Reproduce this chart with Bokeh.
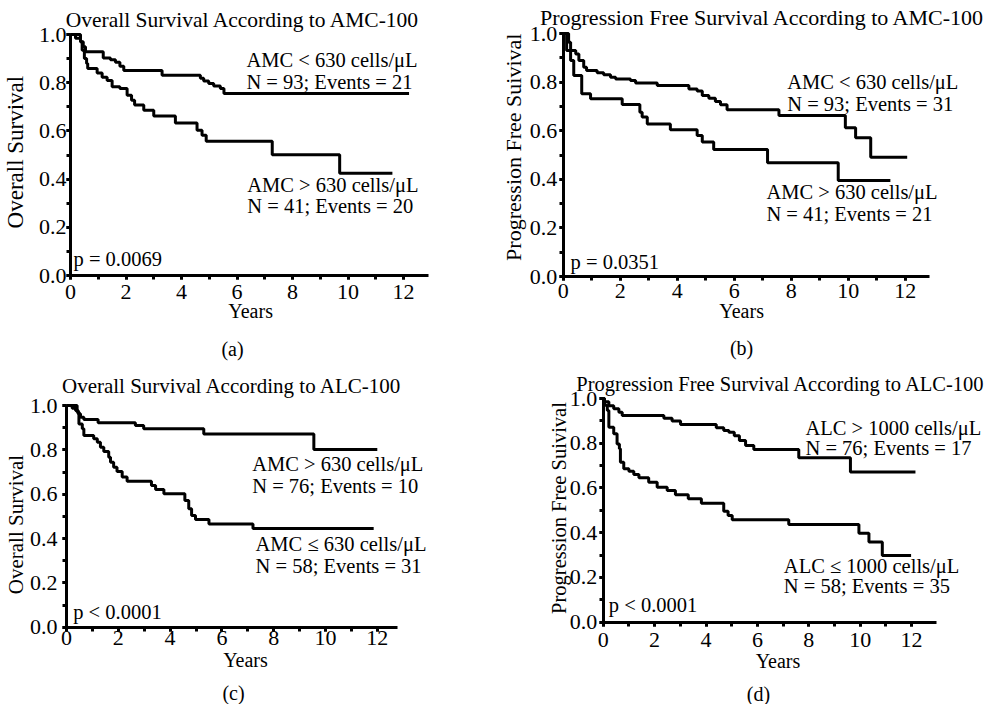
import math
from bokeh.plotting import figure
from bokeh.models import Label, SingleIntervalTicker, PrintfTickFormatter, Range1d
from bokeh.layouts import column, row
from bokeh.embed import file_html
from bokeh.resources import INLINE

FONT = "Liberation Serif"

# ---------------- data ----------------
# (a) Overall survival according to AMC-100
t_a_low = [0, 0.18, 0.36, 0.46, 0.54, 1.18, 1.44, 1.62, 1.78, 1.92, 3.3, 4.68, 4.8, 4.98, 5.16, 5.4, 5.53, 12.2]
s_a_low = [1.0, 0.984, 0.97, 0.949, 0.928, 0.903, 0.895, 0.885, 0.868, 0.851, 0.831, 0.818, 0.807, 0.797, 0.786, 0.776, 0.755, 0.755]
t_a_high = [0, 0.36, 0.42, 0.5, 0.58, 0.62, 0.96, 1.14, 1.32, 1.5, 1.78, 2.04, 2.2, 2.31, 2.64, 3.0, 3.78, 4.56, 4.74, 4.89, 7.27, 9.7, 11.6]
s_a_high = [1.0, 0.97, 0.935, 0.9, 0.88, 0.859, 0.84, 0.823, 0.809, 0.783, 0.776, 0.748, 0.727, 0.707, 0.686, 0.662, 0.633, 0.603, 0.582, 0.557, 0.501, 0.424, 0.424]

# (b) Progression free survival according to AMC-100
t_b_low = [0, 0.19, 0.26, 0.44, 0.55, 0.72, 0.82, 1.19, 1.42, 1.66, 1.84, 2.36, 2.54, 3.3, 4.41, 4.7, 4.88, 5.11, 5.34, 5.52, 5.75, 7.57, 9.9, 10.26, 10.79, 12.07]
s_b_low = [1.0, 0.964, 0.93, 0.916, 0.889, 0.861, 0.848, 0.838, 0.83, 0.82, 0.813, 0.807, 0.796, 0.786, 0.772, 0.763, 0.745, 0.734, 0.72, 0.707, 0.686, 0.663, 0.612, 0.571, 0.491, 0.491]
t_b_high = [0, 0.12, 0.26, 0.37, 0.65, 0.96, 2.07, 2.69, 2.77, 2.95, 3.76, 4.7, 4.88, 5.28, 7.17, 9.65, 11.48]
s_b_high = [1.0, 0.93, 0.889, 0.827, 0.752, 0.731, 0.708, 0.676, 0.656, 0.628, 0.604, 0.58, 0.553, 0.523, 0.468, 0.395, 0.395]

# (c) Overall survival according to ALC-100
t_c_high = [0, 0.22, 0.35, 0.45, 0.54, 0.67, 1.22, 2.66, 2.98, 5.3, 9.55, 12.0]
s_c_high = [1.0, 0.988, 0.977, 0.963, 0.947, 0.937, 0.922, 0.91, 0.895, 0.872, 0.802, 0.802]
t_c_low = [0, 0.41, 0.48, 0.61, 0.67, 1.05, 1.19, 1.31, 1.44, 1.63, 1.7, 1.82, 1.95, 2.15, 2.34, 3.28, 3.44, 3.76, 4.57, 4.72, 4.83, 4.98, 5.5, 7.2, 11.86]
s_c_low = [1.0, 0.971, 0.917, 0.895, 0.865, 0.85, 0.834, 0.812, 0.792, 0.767, 0.744, 0.722, 0.702, 0.677, 0.658, 0.639, 0.621, 0.602, 0.571, 0.534, 0.504, 0.486, 0.466, 0.445, 0.445]

# (d) Progression free survival according to ALC-100
t_d_high = [0, 0.05, 0.22, 0.41, 0.61, 0.74, 2.36, 2.68, 3.01, 4.4, 4.69, 4.89, 5.1, 5.3, 5.54, 5.86, 7.61, 9.62, 12.15]
s_d_high = [1.0, 0.985, 0.968, 0.954, 0.939, 0.924, 0.912, 0.899, 0.884, 0.869, 0.857, 0.849, 0.834, 0.812, 0.79, 0.772, 0.735, 0.671, 0.671]
t_d_low = [0, 0.05, 0.16, 0.22, 0.41, 0.54, 0.63, 0.67, 0.8, 1.0, 1.19, 1.39, 1.77, 2.1, 2.49, 2.81, 3.31, 3.82, 4.69, 4.86, 5.02, 7.22, 9.95, 10.34, 10.86, 11.98]
s_d_low = [1.0, 0.97, 0.946, 0.872, 0.842, 0.797, 0.775, 0.715, 0.686, 0.675, 0.66, 0.646, 0.626, 0.603, 0.589, 0.57, 0.552, 0.532, 0.496, 0.477, 0.458, 0.437, 0.398, 0.358, 0.298, 0.298]

titles = ["Overall Survival According to AMC-100",
          "Progression Free Survival According to AMC-100",
          "Overall Survival According to ALC-100",
          "Progression Free Survival According to ALC-100"]
y_labels = ["Overall Survival", "Progression Free Suivival", "Overall Survival", "Progression Free Suivival"]
x_label = "Years"
captions = ["(a)", "(b)", "(c)", "(d)"]
annotations = [
    ["AMC < 630 cells/\u03bcL", "N = 93; Events = 21", "AMC > 630 cells/\u03bcL", "N = 41; Events = 20", "p = 0.0069"],
    ["AMC < 630 cells/\u03bcL", "N = 93; Events = 31", "AMC > 630 cells/\u03bcL", "N = 41; Events = 21", "p = 0.0351"],
    ["AMC > 630 cells/\u03bcL", "N = 76; Events = 10", "AMC \u2264 630 cells/\u03bcL", "N = 58; Events = 31", "p < 0.0001"],
    ["ALC > 1000 cells/\u03bcL", "N = 76; Events = 17", "ALC \u2264 1000 cells/\u03bcL", "N = 58; Events = 35", "p < 0.0001"],
]


def lab(p, x, y, text, size="20.5px", align="left", baseline="middle", angle=0.0):
    p.add_layout(Label(x=x, y=y, text=text, text_font=FONT, text_font_size=size,
                       text_align=align, text_baseline=baseline, angle=angle,
                       text_color="black"))


def panel(cx, cy, w, h, X0, kx, Y0, ky, x_axis_end, curves,
          title, title_xy, title_size, ylab, ylab_xy, ylab_size, years_xy,
          ann, ann_xy, cap, cap_xy, xs_off, ys_off):
    # the plotting frame fills the canvas; axes sit at x=0 / y=0
    xr = Range1d((cx - X0) / kx, (cx + w - X0) / kx)
    yr = Range1d((Y0 - cy - h) / ky, (Y0 - cy) / ky)
    p = figure(width=w, height=h, output_backend="svg", toolbar_location=None,
               x_range=xr, y_range=yr, min_border=0)
    p.title.visible = False
    p.outline_line_color = None
    p.grid.visible = False
    p.background_fill_color = "white"
    p.border_fill_color = "white"

    for t, s in curves:
        p.step(t, s, mode="after", line_color="black", line_width=3)

    p.xaxis.ticker = SingleIntervalTicker(interval=2, num_minor_ticks=2)
    p.yaxis.ticker = SingleIntervalTicker(interval=0.2, num_minor_ticks=2)
    p.yaxis.formatter = PrintfTickFormatter(format="%.1f")
    p.xaxis.fixed_location = 0
    p.yaxis.fixed_location = 0
    p.xaxis.bounds = (0, x_axis_end)
    p.yaxis.bounds = (0, 1)
    for ax in (p.xaxis, p.yaxis):
        ax.axis_line_width = 3
        ax.axis_line_color = "black"
        ax.major_tick_line_width = 3
        ax.minor_tick_line_width = 3
        ax.major_tick_out = 4
        ax.major_tick_in = 0
        ax.minor_tick_out = 4
        ax.minor_tick_in = 0
        ax.major_label_text_font = FONT
        ax.major_label_text_font_size = "22px"
        ax.major_label_text_color = "black"
    p.xaxis.major_label_standoff = xs_off
    p.yaxis.major_label_standoff = ys_off

    lab(p, title_xy[0], title_xy[1], title, size=title_size, align="center")
    lab(p, ylab_xy[0], ylab_xy[1], ylab, size=ylab_size, align="center", angle=math.pi / 2)
    lab(p, years_xy[0], years_xy[1], x_label, size="20px", align="center")
    for txt, (x, y) in zip(ann, ann_xy):
        lab(p, x, y, txt)
    lab(p, cap_xy[0], cap_xy[1], cap, size="20px", align="center")
    return p


TOP_H = 362
BOT_H = 342

pa = panel(0, 0, 490, TOP_H, 70, 27.75, 275, 241, 12.9,
           [(t_a_low, s_a_low), (t_a_high, s_a_high)],
           titles[0], (6.22, 1.060), "21.5px", y_labels[0], (-1.98, 0.512), "23px", (6.49, -0.149),
           annotations[0], [(6.34, 0.894), (6.34, 0.802), (6.37, 0.374), (6.37, 0.288), (0.11, 0.07)],
           captions[0], (5.84, -0.303), 5, 0)

pb = panel(490, 0, 494, TOP_H, 562.7, 28.5, 276, 243, 12.85,
           [(t_b_low, s_b_low), (t_b_high, s_b_high)],
           titles[1], (7.0, 1.065), "22px", y_labels[1], (-1.744, 0.532), "22px", (6.26, -0.144),
           annotations[1], [(7.86, 0.80), (7.86, 0.708), (7.13, 0.347), (7.13, 0.258), (0.26, 0.059)],
           captions[1], (6.26, -0.296), 3, 2)

pc = panel(0, TOP_H, 490, BOT_H, 66, 25.9, 626.7, 221.7, 12.78,
           [(t_c_high, s_c_high), (t_c_low, s_c_low)],
           titles[2], (6.4, 1.089), "21px", y_labels[2], (-1.969, 0.463), "21px", (6.91, -0.150),
           annotations[2], [(7.17, 0.737), (7.17, 0.639), (7.3, 0.376), (7.3, 0.274), (0.26, 0.068)],
           captions[2], (6.45, -0.299), 0, 5)

pd_ = panel(490, TOP_H, 494, BOT_H, 602.7, 25.7, 621.7, 223.7, 12.97,
            [(t_d_high, s_d_high), (t_d_low, s_d_low)],
            titles[3], (6.92, 1.067), "20.5px", y_labels[3], (-1.739, 0.5105), "20.5px", (6.8, -0.173),
            annotations[3], [(7.87, 0.869), (7.87, 0.78), (7.03, 0.253), (7.03, 0.164), (0.22, 0.079)],
            captions[3], (6.04, -0.319), 7, 2)

layout = column(row(pa, pb), row(pc, pd_))
open("out.html", "w").write(file_html(layout, INLINE))
